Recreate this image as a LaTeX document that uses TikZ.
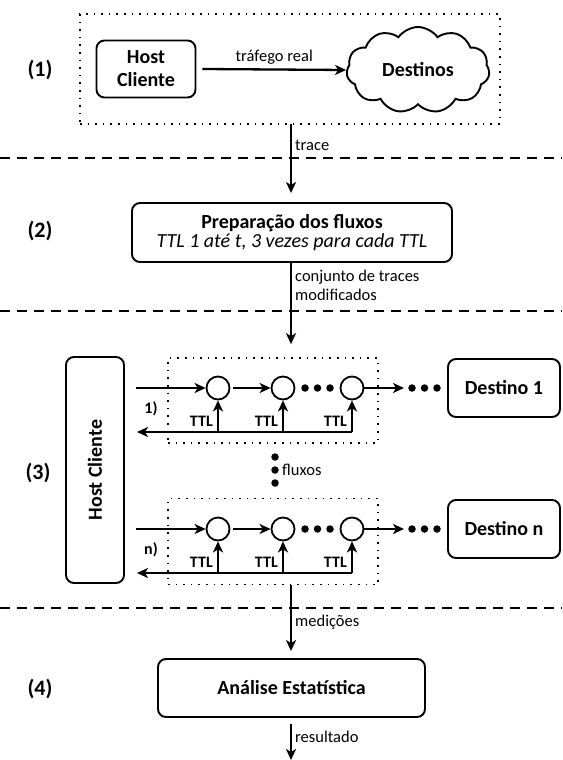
\documentclass[tikz,border=0pt]{standalone}
\usepackage{fontspec}
\setmainfont{Carlito}
\usetikzlibrary{arrows.meta,shapes.symbols,positioning}
\begin{document}
\begin{tikzpicture}[x=1pt,y=-1pt,
  arr/.style={line width=2.3pt,-{Stealth[length=11pt,width=10pt,inset=3pt]}},
  rbox/.style={draw,line width=1.9pt,rounded corners=8pt,align=center,inner sep=0pt},
  dotbox/.style={draw,line width=1.7pt,dash pattern=on 1.6pt off 6pt},
  sep/.style={line width=1.7pt,dash pattern=on 10pt off 7pt},
  lbl/.style={font=\fontsize{16.5}{19}\selectfont,inner sep=1pt},
  big/.style={font=\fontsize{20}{23}\selectfont\bfseries},
  num/.style={font=\fontsize{22}{26}\selectfont\bfseries},
  ttl/.style={font=\fontsize{16}{19}\selectfont\bfseries,inner sep=0pt},
  circ/.style={draw,circle,line width=1.8pt,minimum size=23pt,inner sep=0pt},
  dot/.style={fill,circle,minimum size=7.5pt,inner sep=0pt}]
\useasboundingbox (0,0) rectangle (562,760);

% separators
\draw[sep] (0,158) -- (562,158);
\draw[sep] (0,311) -- (562,311);
\draw[sep] (0,608) -- (562,608);

% ---------- (1)
\node[num] (n1) at (40,70) {(1)};
\node[dotbox,minimum width=420pt,minimum height=110pt] (box1) at (290,69) {};
\node[rbox,big,minimum width=99pt,minimum height=57pt] (hc1) at (146,69) {Host\\Cliente};
\node[cloud,draw,line width=1.9pt,cloud puffs=11,cloud puff arc=110,aspect=1.7,
      minimum width=143pt,minimum height=86pt,inner sep=0pt,big] (dest) at (418,70) {Destinos};
\draw[arr] (hc1.east) ++(6,0) coordinate (a1s) -- (dest.west) node[midway,above=3pt,lbl] {tráfego real};

% trace arrow
\coordinate (t1) at (291,124);
\node[rbox,minimum width=320pt,minimum height=59pt] (prep) at (292,232.5)
  {{\fontsize{20}{23}\selectfont\bfseries Preparação dos fluxos}\\[1pt]
   {\fontsize{20}{23}\selectfont\itshape TTL 1 até t, 3 vezes para cada TTL}};
\draw[arr,shorten >=9pt] (t1) -- (prep.north -| t1);
\node[lbl,anchor=west] (trace) at (294,145) {trace};
\node[num] (n2) at (40,231) {(2)};

% ---------- (3)
\node[num] (n3) at (38,473) {(3)};
\node[rbox,minimum width=58pt,minimum height=226pt] (hc3) at (95,470) {};
\node[big,rotate=90] (hc3t) at (hc3.center) {Host Cliente};

\node[dotbox,minimum width=210pt,minimum height=85pt] (dbox1) at (273,400.5) {};
\node[dotbox,minimum width=210pt,minimum height=86pt] (dbox2) at (273,541.5) {};

\draw[arr,shorten >=13pt] (prep.south -| t1) -- (dbox1.north -| t1);
\node[lbl,anchor=north west,align=left] (conj) at (294,269) {conjunto de traces\\modificados};

% rows
\foreach \r/\y/\lab/\dn in {1/388/1)/Destino 1, 2/529/n)/Destino n}{
  \node[circ] (c1\r) at (218,\y) {};
  \node[circ] (c2\r) at (283,\y) {};
  \node[circ] (c3\r) at (352,\y) {};
  \coordinate (in\r) at (136,\y);
  \draw[arr] (in\r) -- (c1\r.west);
  \draw[arr] ([xshift=3pt]c1\r.east) -- (c2\r.west);
  \node[dot] (pa\r) at (305,\y) {};
  \node[dot] (pb\r) at (317.5,\y) {};
  \node[dot] (pc\r) at (330,\y) {};
  \coordinate (ae\r) at (404,\y);
  \draw[arr] (c3\r.east) -- (ae\r);
  \node[dot] (qa\r) at (412,\y) {};
  \node[dot] (qb\r) at (424.5,\y) {};
  \node[dot] (qc\r) at (437,\y) {};
  \node[rbox,big,minimum width=112pt,minimum height=58pt] (dst\r) at (504,\y) {\dn};
  \coordinate (ret\r) at (352,\y+44);
  \coordinate (rete\r) at (137,\y+44);
  \draw[arr] (ret\r) -- (rete\r);
  \foreach \c in {1,2,3}{
    \draw[arr] (c\c\r.south |- ret\r) -- (c\c\r.south);
    \node[ttl,anchor=east] (tl\c\r) at ([xshift=-5pt,yshift=11pt]c\c\r.south |- ret\r) {TTL};
  }
  \node[ttl] (lab\r) at (151,\y+21) {\lab};
}

% vertical dots
\node[dot] (v1) at (275,457) {};
\node[dot] (v2) at (275,470) {};
\node[dot] (v3) at (275,483) {};
\node[lbl,anchor=west] (flx) at (281,470) {fluxos};

% ---------- (4)
\node[num] (n4) at (40,689) {(4)};
\node[rbox,big,minimum width=267pt,minimum height=58pt] (an) at (291.5,688) {Análise Estatística};
\draw[arr,shorten >=7pt] (dbox2.south -| t1) -- (an.north -| t1);
\node[lbl,anchor=west] (med) at (294,622) {medições};
\coordinate (endp) at (291,760);
\draw[arr,shorten <=6pt] (an.south -| t1) -- (endp);
\node[lbl,anchor=west] (res) at (294,737) {resultado};
\end{tikzpicture}
\end{document}
